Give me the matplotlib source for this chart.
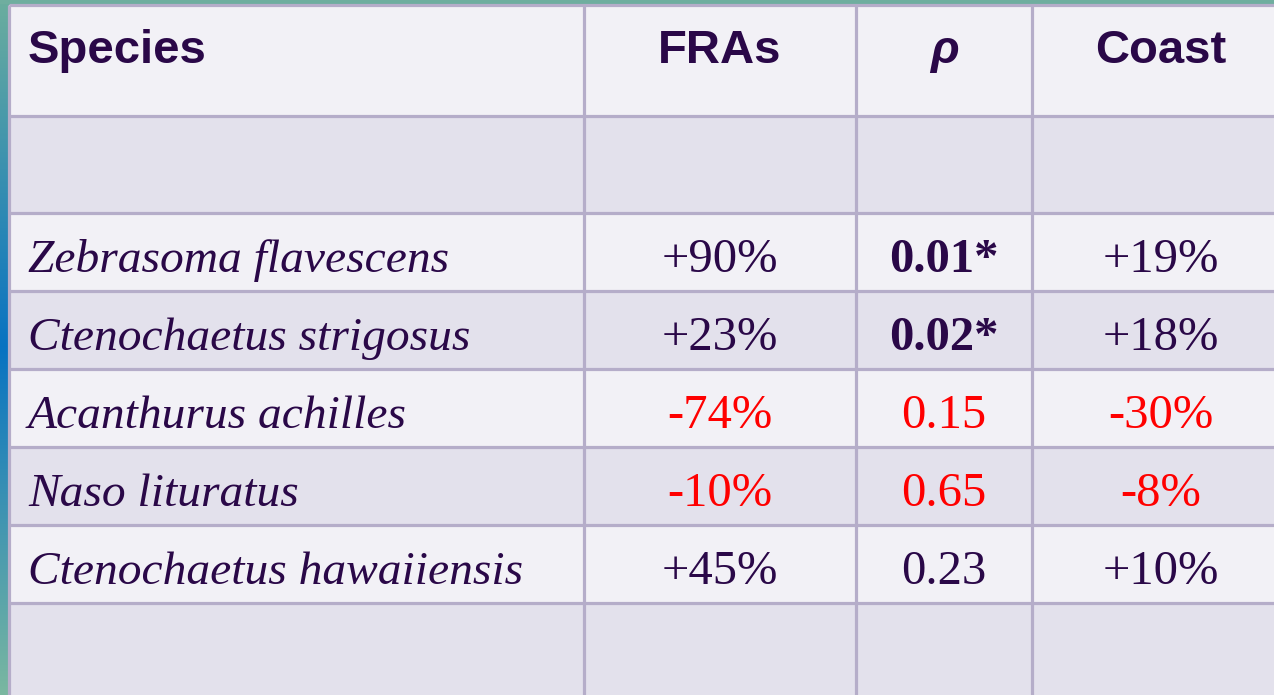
import numpy as np
import matplotlib
matplotlib.use("Agg")
import matplotlib.pyplot as plt
from matplotlib.patches import Rectangle

# ---- data ----
headers = ["Species", "FRAs", "ρ", "Coast"]
species = ["Zebrasoma flavescens", "Ctenochaetus strigosus", "Acanthurus achilles",
           "Naso lituratus", "Ctenochaetus hawaiiensis"]
fras = ["+90%", "+23%", "-74%", "-10%", "+45%"]
rho = ["0.01*", "0.02*", "0.15", "0.65", "0.23"]
coast = ["+19%", "+18%", "-30%", "-8%", "+10%"]
negative = [False, False, True, True, False]
significant = [True, True, False, False, False]

# ---- layout / style ----
W, H = 1274, 695
col_edges = [9, 584, 856, 1032, 1300]
row_edges = [5, 116, 213, 291, 369, 447, 525, 603, 720]
light = "#f2f1f6"
dark = "#e3e1ec"
grid = "#b5adc9"
txt = "#2a0848"
red = "#ff0000"

fig = plt.figure(figsize=(W / 100, H / 100), dpi=100)
ax = fig.add_axes([0, 0, 1, 1])
ax.set_xlim(0, W)
ax.set_ylim(H, 0)
ax.axis("off")

# background gradient (slide backdrop)
grad = np.linspace(0, 1, 256)
c_top = np.array([0.42, 0.68, 0.62])
c_mid = np.array([0.03, 0.45, 0.76])
c_bot = np.array([0.48, 0.72, 0.63])
cols = np.where(grad[:, None] < 0.5,
                c_top + (c_mid - c_top) * (grad[:, None] / 0.5),
                c_mid + (c_bot - c_mid) * ((grad[:, None] - 0.5) / 0.5))
img = np.repeat(cols[:, None, :], 2, axis=1)
ax.imshow(img, extent=[0, W, H, 0], aspect="auto", zorder=0)
ax.add_patch(Rectangle((0, 0), W, 4, color="#6fae9f", zorder=0.5, lw=0))

# row fills
fills = [light, dark, light, dark, light, dark, light, dark]
for i in range(len(row_edges) - 1):
    ax.add_patch(Rectangle((col_edges[0], row_edges[i]), col_edges[-1] - col_edges[0],
                           row_edges[i + 1] - row_edges[i], facecolor=fills[i],
                           edgecolor="none", zorder=1))

lw = 2.3
for y in row_edges[:-1]:
    ax.plot([col_edges[0], col_edges[-1]], [y, y], color=grid, lw=lw, zorder=2,
            solid_capstyle="butt")
for x in col_edges[:-1]:
    ax.plot([x, x], [row_edges[0], row_edges[-1]], color=grid, lw=lw, zorder=2,
            solid_capstyle="butt")

col_centers = [(col_edges[i] + col_edges[i + 1]) / 2 for i in range(len(col_edges) - 1)]
col_centers[3] = 1161

# header
hfs = 34
ax.text(28, 63, headers[0], fontsize=hfs, fontweight="bold", family="Liberation Sans",
        color=txt, va="baseline", ha="left", zorder=3)
ax.text(col_centers[1], 63, headers[1], fontsize=hfs, fontweight="bold",
        family="Liberation Sans", color=txt, va="baseline", ha="center", zorder=3)
ax.text(col_centers[2], 63, headers[2], fontsize=hfs, fontweight="bold", fontstyle="italic",
        family="Liberation Sans", color=txt, va="baseline", ha="center", zorder=3)
ax.text(col_centers[3], 63, headers[3], fontsize=hfs, fontweight="bold",
        family="Liberation Sans", color=txt, va="baseline", ha="center", zorder=3)

# body
bfs = 35
sfs = 34.2
for i, name in enumerate(species):
    yc = (row_edges[i + 2] + row_edges[i + 3]) / 2 + 20
    c = red if negative[i] else txt
    ax.text(28, yc, name, fontsize=sfs, fontstyle="italic", family="Liberation Serif",
            color=txt, va="baseline", ha="left", zorder=3)
    ax.text(col_centers[1], yc, fras[i], fontsize=bfs, family="Liberation Serif",
            color=c, va="baseline", ha="center", zorder=3)
    ax.text(col_centers[2], yc, rho[i], fontsize=bfs, family="Liberation Serif",
            fontweight="bold" if significant[i] else "normal",
            color=c, va="baseline", ha="center", zorder=3)
    ax.text(col_centers[3], yc, coast[i], fontsize=bfs, family="Liberation Serif",
            color=c, va="baseline", ha="center", zorder=3)

fig.savefig("out.png", dpi=100)
